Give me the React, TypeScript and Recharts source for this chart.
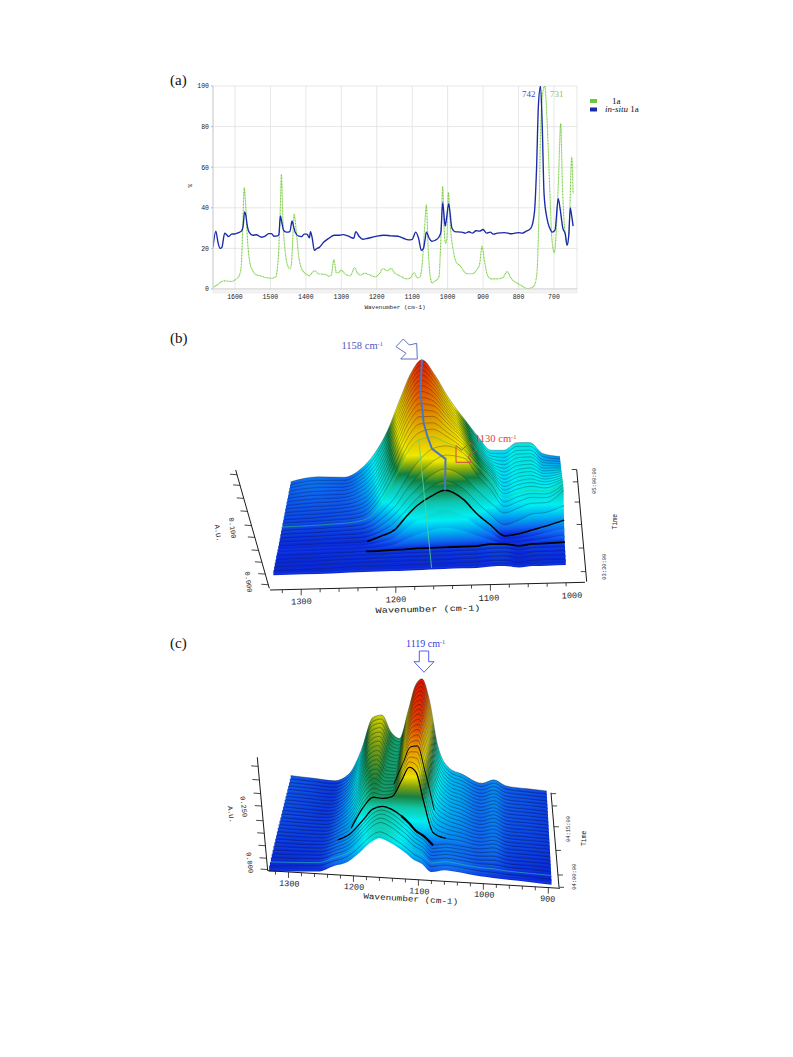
import React from 'react';
import { Area, CartesianGrid, ComposedChart, Line, LineChart, XAxis, YAxis } from 'recharts';

// ---------- Panel (a) ----------
const wavenumberTicks = [1600, 1500, 1400, 1300, 1200, 1100, 1000, 900, 800, 700];
const percentTicks = [0, 20, 40, 60, 80, 100];
const greenSpectrum: [number, number][] = [[1660,1],[1650,2],[1640,3.5],[1630,4],[1610,3.7],[1600,4.5],[1590,6],[1583,10],[1578,30],[1574,50],[1570,42],[1565,25],[1558,13],[1550,9],[1540,7],[1525,6.3],[1510,5.5],[1495,5.3],[1485,6],[1478,15],[1472,40],[1469,56.5],[1465,35],[1458,18],[1450,11],[1445,10],[1441,12],[1436,28],[1433,37],[1428,30],[1420,16],[1412,10],[1400,7.5],[1390,6.5],[1380,8.5],[1375,9],[1365,7.5],[1345,7.2],[1335,6.3],[1328,7],[1321,14.5],[1314,8],[1308,8],[1300,9.3],[1290,7.5],[1275,6.5],[1262,10.5],[1255,8],[1245,6.8],[1235,7.8],[1220,7],[1205,6],[1195,7],[1182,10],[1170,9],[1160,10.2],[1150,8],[1135,6.5],[1115,5],[1105,5.5],[1095,8],[1085,5.5],[1078,6],[1072,12],[1065,30],[1060,41.5],[1055,20],[1048,5],[1043,3],[1035,4],[1025,5.5],[1019,25],[1014,50.5],[1010,30],[1006,22.5],[1002,25],[998,47.5],[992,30],[985,20],[975,13],[965,11.5],[955,9],[945,7.5],[930,7.5],[918,9.5],[910,12],[903,21],[897,15],[888,7],[878,5],[860,5],[845,5.5],[832,8.5],[820,5],[805,3],[790,1.5],[775,0.2],[765,0.5],[755,2],[748,8],[742,40],[738,75],[733,95],[726,100],[720,85],[712,50],[706,25],[699,18],[693,30],[687,55],[681,81.5],[676,50],[670,30],[662,22],[657,30],[650,65],[646,47]];
const blueSpectrum: [number, number][] = [[1662,20.5],[1654,28.5],[1648,23],[1642,20],[1637,20.5],[1629,27.5],[1625,27],[1618,25.8],[1610,27],[1600,27.2],[1590,27.8],[1582,28.5],[1577,31],[1573,38],[1569,36],[1566,32],[1560,28],[1550,26.5],[1540,26.7],[1525,25.5],[1515,26],[1505,27.3],[1497,27.3],[1490,26],[1480,26.2],[1476,27],[1472,36],[1468,33],[1463,29],[1455,28],[1445,28.3],[1439,33.5],[1435,31],[1430,28],[1420,26],[1412,25.8],[1405,27],[1397,27],[1390,25.2],[1387,28.3],[1382,25],[1376,19],[1370,19.8],[1362,20.5],[1350,23],[1335,25],[1320,26.5],[1305,26.5],[1295,26.8],[1280,26],[1265,25],[1259,28.3],[1250,26],[1240,24.5],[1225,25],[1205,25.8],[1180,26.5],[1160,26.2],[1140,26],[1125,25],[1110,24.2],[1100,24.5],[1090,28],[1082,25],[1074,19],[1068,20],[1064,24],[1060,28],[1052,25],[1045,23.5],[1035,24],[1025,25.5],[1019,28],[1014,42.5],[1007,31],[1003,35],[997,42],[988,30],[980,28.3],[960,28],[950,27.5],[940,28.2],[930,27.5],[920,28.7],[910,28.5],[900,29.3],[890,27.5],[880,28],[870,27],[860,27.5],[840,27.8],[820,27.2],[800,27.8],[790,27.5],[780,28.3],[765,30],[755,38],[749,60],[744,90],[738,100],[733,80],[728,47],[720,35],[712,30],[705,28],[697,29],[688,44.5],[683,40],[675,30],[668,27],[663,21.5],[658,27],[654,40],[650,36],[646,31]];
const legendNames = ['1a', 'in-situ'];
const toPoints = (s: [number, number][]) => s.map(([wn, pct]) => ({ wn, pct }));

// ---------- Panel (b): absorbance in mAU, front slice first ----------
const bWavenumbers = [1332,1300,1270,1250,1235,1220,1205,1192,1180,1165,1150,1130,1115,1100,1085,1070,1055,1040,1020];
const bSlices = [
[1,1,1,2,2,2,2,2,2,3,3,3,3,5,5,1,3,3,3],
[1,1,2,3,3,3,3,3,3,3,3,4,4,6,6,1,4,4,4],
[2,2,3,3,4,4,4,4,4,4,4,5,5,7,7,2,5,5,5],
[3,3,4,4,4,5,5,5,5,5,5,6,6,8,8,3,6,6,6],
[3,3,4,5,5,5,6,6,6,6,6,7,7,9,9,4,7,7,7],
[4,4,5,5,6,6,7,7,8,8,8,8,8,11,10,5,8,8,9],
[4,4,4,4,5,7,11,20,30,38,42,34,22,12,2,4,7,10,15],
[4,4,4,4,5,10,18,36,52,65,72,58,36,19,3,5,9,15,22],
[4,4,4,4,5,15,27,55,77,95,106,85,53,28,4,7,14,21,32],
[5,5,6,6,8,18,36,62,86,108,118,100,70,42,20,28,40,42,55],
[6,6,7,7,10,24,46,76,100,125,136,118,88,60,37,46,55,55,80],
[7,7,8,9,13,30,56,92,118,144,158,150,112,80,43,52,60,58,78],
[8,8,9,10,16,38,70,110,140,165,170,152,118,85,45,55,60,58,76],
[9,9,10,12,20,55,105,155,178,183,170,150,118,85,46,55,60,56,72],
[10,10,11,13,24,60,112,162,186,192,176,146,114,84,47,56,60,55,68],
[10,10,12,14,27,66,122,172,197,198,178,146,112,82,47,57,60,54,64],
[11,11,12,16,30,72,130,180,205,204,180,144,110,80,47,57,60,52,60],
[11,12,13,17,33,77,136,188,212,208,182,142,106,76,47,58,60,50,56],
[12,13,13,19,36,81,142,194,218,212,182,138,102,72,47,58,60,48,52],
[12,14,14,21,40,85,147,200,224,214,182,135,98,68,47,58,60,46,48],
[13,15,14,23,43,89,152,205,229,216,180,132,95,64,47,59,60,44,44],
[13,16,14,24,46,92,156,210,234,217,178,129,92,60,47,59,60,42,40],
[13,17,15,26,49,95,160,214,238,217,176,126,89,57,47,60,60,40,36],
[14,18,15,27,52,98,164,218,242,217,174,123,86,54,47,60,59,38,33],
[14,19,15,28,55,101,167,222,245,217,172,121,84,52,47,60,59,36,30],
[14,19,15,30,57,104,170,225,248,217,170,119,82,50,47,61,59,35,27],
[14,20,15,31,60,106,173,227,251,217,169,117,80,49,47,61,59,34,25],
];
const bRidge = [{ wn: 1180, slice: 26, v: 251 }, { wn: 1180, slice: 20, v: 229 }, { wn: 1175, slice: 15, v: 198 }, { wn: 1170, slice: 13, v: 182 }, { wn: 1165, slice: 12, v: 165 }, { wn: 1150, slice: 11, v: 150 }, { wn: 1150, slice: 10, v: 136 }, { wn: 1150, slice: 8, v: 106 }];
const bTrace = [{ wn: 1180, slice: 13, v: 178 }, { wn: 1163, slice: 0, v: 3 }];

// ---------- Panel (c): absorbance in mAU, front slice first ----------
const cWavenumbers = [1330,1290,1255,1230,1210,1190,1175,1160,1145,1130,1118,1107,1095,1080,1060,1040,1005,985,965,930,895];
const cSlices = [
[0,5,9,34,51,93,130,152,138,116,95,72,59,28,38,33,20,16,12,7,0],
[3,7,11,34,53,97,136,158,144,120,98,75,60,30,38,34,21,18,13,8,2],
[5,8,12,35,55,101,141,163,149,124,101,78,62,31,39,34,22,20,14,9,4],
[8,9,12,35,57,105,146,168,154,128,104,80,64,32,39,35,23,23,15,10,5],
[10,10,13,36,59,109,151,172,158,132,107,82,65,33,40,36,24,26,16,11,7],
[11,11,13,36,61,113,155,175,162,135,110,84,66,33,40,36,26,29,17,12,8],
[13,12,14,37,63,117,160,177,165,139,113,86,68,34,41,37,27,32,18,13,9],
[14,12,14,37,65,121,165,178,168,144,117,88,69,34,41,37,28,35,19,14,10],
[15,13,14,38,72,160,199,196,205,270,324,305,190,70,50,45,29,37,20,15,11],
[16,13,14,39,76,168,204,196,203,276,332,320,210,80,55,47,29,38,21,16,12],
[17,14,14,39,80,176,209,197,202,280,338,334,228,90,60,49,30,39,21,16,12],
[18,14,14,40,84,184,214,197,201,284,345,346,244,98,64,51,30,40,22,17,13],
[18,15,14,40,88,191,219,198,200,287,351,356,258,106,68,53,30,41,22,17,13],
[19,15,14,41,92,198,224,198,199,290,357,365,270,113,71,55,31,42,23,18,13],
[19,15,14,41,96,205,229,199,198,292,363,373,282,120,73,57,31,43,23,18,14],
[20,16,14,42,100,212,234,199,197,294,369,381,292,126,75,58,31,44,24,19,14],
[20,16,13,42,104,218,239,200,197,296,375,388,301,132,77,60,32,45,24,19,14],
[21,16,13,43,108,224,244,200,196,298,380,395,310,138,79,61,32,46,25,19,15],
[21,17,13,43,112,230,249,201,196,300,385,402,318,143,80,62,32,46,25,20,15],
[22,17,13,43,116,236,254,202,195,301,389,408,326,148,81,63,32,47,26,20,15],
[22,17,13,44,120,242,259,204,195,302,393,413,332,152,82,64,33,47,26,20,15],
[22,17,13,44,124,248,264,206,194,303,397,418,338,156,83,64,33,48,27,21,16],
[23,18,13,44,127,253,268,208,194,304,400,423,343,160,84,65,33,48,27,21,16],
[23,18,13,45,130,258,272,211,194,305,403,427,348,163,84,65,33,48,27,21,16],
[23,18,13,45,133,263,276,213,193,306,405,430,352,166,85,66,33,49,28,21,16],
[24,18,13,45,136,267,279,216,193,306,406,432,355,168,85,66,33,49,28,21,16],
[24,18,13,45,139,271,282,218,193,307,406,433,357,170,85,66,33,49,28,21,16],
];

// ---------- Shared look ----------
const serif = '"Liberation Serif", serif';
const mono = '"Liberation Mono", monospace';
type Stop = [number, string];
const rampB: Stop[] = [[0,'#0a28d8'],[0.05,'#0f62ee'],[0.12,'#00a8f0'],[0.2,'#00eef2'],[0.33,'#10c0a8'],[0.43,'#108040'],[0.5,'#80a810'],[0.58,'#f0e800'],[0.73,'#e0b800'],[0.85,'#e07000'],[0.95,'#e03000'],[1,'#e01000']];
const rampC: Stop[] = [[0,'#0a28d8'],[0.05,'#0f62ee'],[0.14,'#00a8f0'],[0.26,'#00eef2'],[0.38,'#10c8a8'],[0.48,'#188040'],[0.57,'#80a010'],[0.66,'#e8e000'],[0.78,'#e8a000'],[0.88,'#e04000'],[1,'#e01000']];

type Geometry = {
  id: string; left: number; top: number; width: number; height: number;
  wnLeft: number; wnRight: number; scale: number;
  frontL: [number, number]; frontR: [number, number]; backL: [number, number]; backR: [number, number];
};
const lerp = (a: number, b: number, t: number) => a + (b - a) * t;
const project = (g: Geometry, wn: number, t: number, v: number) => {
  const s = (g.wnLeft - wn) / (g.wnLeft - g.wnRight);
  const x = lerp(lerp(g.frontL[0], g.frontR[0], s), lerp(g.backL[0], g.backR[0], s), t);
  const base = lerp(lerp(g.frontL[1], g.frontR[1], s), lerp(g.backL[1], g.backR[1], s), t);
  return { x, base, y: base - v * g.scale };
};
type Pt = { wn: number; slice: number; v: number };
type PathSpec = { pts: Pt[]; color: string; width: number; opacity: number; curved?: boolean };

// part of one slice, between two wavenumbers, for the stretches drawn heavier
const segment = (wns: number[], rows: number[][], slice: number, from: number, to: number, width: number): PathSpec => ({
  pts: wns.map((wn, j) => ({ wn, slice, v: rows[slice][j] })).filter((p) => p.wn <= from && p.wn >= to),
  color: '#000', width, opacity: 1, curved: true,
});

function Waterfall({ g, wavenumbers, slices, ramp, noLine, accent, accentColor, lineOpacity, paths }: {
  g: Geometry; wavenumbers: number[]; slices: number[][]; ramp: Stop[]; noLine: number[]; accent: number[]; accentColor: string; lineOpacity: number; paths: PathSpec[];
}) {
  const n = slices.length;
  const maxV = Math.max(...slices.flat());
  const tables = slices.map((row, i) => {
    const t = i / (n - 1);
    return row.map((v, j) => {
      const p = project(g, wavenumbers[j], t, v);
      const prev = i > 0 ? project(g, wavenumbers[j], (i - 1) / (n - 1), slices[i - 1][j]).y + 1.5 : p.y;
      return { px: p.x, top: p.y, band: [prev, p.y] };
    });
  });
  const order = slices.map((_, i) => n - 1 - i);
  return (
    <div style={{ position: 'absolute', left: g.left, top: g.top }}>
      <ComposedChart width={g.width} height={g.height} margin={{ top: 0, right: 0, bottom: 0, left: 0 }}>
        <defs>
          {slices.map((_, i) => {
            const t = i / (n - 1);
            const a = project(g, g.wnLeft, t, 0);
            const b = project(g, g.wnRight, t, 0);
            const dx = b.x - a.x, dy = b.base - a.base, len = Math.hypot(dx, dy);
            const L = maxV * g.scale * (dx / len);
            return (
              <linearGradient key={i} id={`${g.id}${i}`} gradientUnits="userSpaceOnUse" x1={a.x} y1={a.base} x2={a.x + (dy / len) * L} y2={a.base - (dx / len) * L}>
                {ramp.map(([o, c]) => <stop key={o} offset={o} stopColor={c} />)}
              </linearGradient>
            );
          })}
        </defs>
        <XAxis type="number" dataKey="px" domain={[0, g.width]} hide allowDataOverflow />
        <YAxis type="number" domain={[0, g.height]} reversed hide allowDataOverflow />
        {order.flatMap((i) => {
          const hasLine = !noLine.includes(i);
          const isAccent = accent.includes(i);
          return [
            i > 0 ? <Area key={`f${i}`} data={tables[i]} dataKey="band" type="monotone" stroke="none" fill={`url(#${g.id}${i})`} fillOpacity={1} dot={false} activeDot={false} isAnimationActive={false} /> : null,
            hasLine ? <Area key={`l${i}`} data={tables[i]} dataKey="top" type="monotone" fill="none" stroke={isAccent ? accentColor : i === 0 ? '#3060d0' : '#061018'} strokeOpacity={isAccent ? 0.7 : lineOpacity} strokeWidth={isAccent ? 0.8 : 0.45} dot={false} activeDot={false} isAnimationActive={false} /> : null,
          ];
        })}
        {paths.map((path, k) => (
          <Line key={k} data={path.pts.map((q) => { const p = project(g, q.wn, q.slice / (n - 1), q.v); return { px: p.x, top: p.y }; })} dataKey="top" type={path.curved ? 'monotone' : 'linear'} stroke={path.color} strokeWidth={path.width} strokeOpacity={path.opacity} dot={false} activeDot={false} isAnimationActive={false} />
        ))}
      </ComposedChart>
    </div>
  );
}

const gB: Geometry = { id: 'gb', left: 160, top: 325, width: 450, height: 295, wnLeft: 1332, wnRight: 1020, scale: 0.4733, frontL: [112.7, 249.3], frontR: [406, 240], backL: [130.7, 163.3], backR: [400, 143.3] };
const gC: Geometry = { id: 'gc', left: 160, top: 630, width: 450, height: 290, wnLeft: 1330, wnRight: 895, scale: 0.2533, frontL: [108.3, 240], frontR: [391.7, 253.3], backL: [130.7, 151.7], backR: [386.7, 165] };

type P = [number, number];
const along = (a: P, b: P, f: number): P => [lerp(a[0], b[0], f), lerp(a[1], b[1], f)];
const ink = '#1a1a1a';

function Axes({ au, time, floor, floorWn, major, labels, auLabels, timeLabels, auTitle, timeTitle, wnTitle, tilt, timeSide, auTicks, timeTicks }: {
  au: [P, P]; time: [P, P]; floor: [P, P]; floorWn: [number, number]; major: number[]; labels: { t: string; x: number; y: number }[];
  auLabels: { t: string; x: number; y: number }[]; timeLabels: { t: string; x: number; y: number }[];
  auTitle: P; timeTitle: P; wnTitle: { x: number; y: number; w: number }; tilt: number; timeSide: number; auTicks: number[]; timeTicks: number[];
}) {
  const minor: number[] = [];
  for (let wn = floorWn[1] + 20 - (floorWn[1] % 20); wn < floorWn[0]; wn += 20) minor.push(wn);
  const rot = (x: number, y: number, a: number) => `rotate(${a} ${x} ${y})`;
  return (
    <g>
      <line x1={au[0][0]} y1={au[0][1]} x2={au[1][0]} y2={au[1][1]} stroke={ink} strokeWidth={1} />
      <line x1={time[0][0]} y1={time[0][1]} x2={time[1][0]} y2={time[1][1]} stroke={ink} strokeWidth={1} />
      <line x1={floor[0][0]} y1={floor[0][1]} x2={floor[1][0]} y2={floor[1][1]} stroke={ink} strokeWidth={1} />
      {auTicks.map((f) => { const p = along(au[0], au[1], f); return <line key={f} x1={p[0]} y1={p[1]} x2={p[0] - 7} y2={p[1] - 0.5} stroke={ink} strokeWidth={0.8} />; })}
      {timeTicks.map((f) => { const p = along(time[0], time[1], f); return <line key={f} x1={p[0]} y1={p[1]} x2={p[0] + timeSide} y2={p[1]} stroke={ink} strokeWidth={0.8} />; })}
      {minor.map((wn) => { const p = along(floor[0], floor[1], (floorWn[0] - wn) / (floorWn[0] - floorWn[1])); const isMajor = major.includes(wn); return <line key={wn} x1={p[0]} y1={p[1]} x2={p[0]} y2={p[1] + (isMajor ? 6 : 3.5)} stroke={ink} strokeWidth={0.8} />; })}
      {labels.map((l) => <text key={l.t} x={l.x} y={l.y} transform={rot(l.x, l.y, tilt)} textAnchor="middle" dominantBaseline="middle" fontFamily={mono} fontSize={8.5} fill={ink}>{l.t}</text>)}
      {auLabels.map((l) => <text key={l.t} x={l.x} y={l.y} transform={rot(l.x, l.y, 83)} textAnchor="middle" dominantBaseline="middle" fontFamily={mono} fontSize={7} fill={ink}>{l.t}</text>)}
      {timeLabels.map((l) => <text key={l.t} x={l.x} y={l.y} transform={rot(l.x, l.y, -90)} textAnchor="middle" dominantBaseline="middle" fontFamily={mono} fontSize={5.4} fill={ink}>{l.t}</text>)}
      <text x={auTitle[0]} y={auTitle[1]} transform={rot(auTitle[0], auTitle[1], 83)} textAnchor="middle" dominantBaseline="middle" fontFamily={mono} fontSize={7} fill={ink}>A.U.</text>
      <text x={timeTitle[0]} y={timeTitle[1]} transform={rot(timeTitle[0], timeTitle[1], -90)} textAnchor="middle" dominantBaseline="middle" fontFamily={mono} fontSize={6.5} fill={ink}>Time</text>
      <text x={wnTitle.x} y={wnTitle.y} transform={rot(wnTitle.x, wnTitle.y, tilt)} textAnchor="middle" dominantBaseline="middle" fontFamily={mono} fontSize={8} textLength={wnTitle.w} lengthAdjust="spacingAndGlyphs" fill={ink}>Wavenumber (cm-1)</text>
    </g>
  );
}

const Peak = ({ x, y, value, color, size }: { x: number; y: number; value: string; color: string; size: number }) => (
  <text x={x} y={y} fontFamily={serif} fontSize={size} fill={color}>
    {value} cm<tspan dy={-3} fontSize={size * 0.62}>-1</tspan>
  </text>
);

const Overlay = () => (
  <svg width={793} height={1057} style={{ position: 'absolute', left: 0, top: 0, pointerEvents: 'none' }}>
    {['(a)', '(b)', '(c)'].map((t, i) => <text key={t} x={170} y={[85, 343, 648][i]} fontFamily={serif} fontSize={15} fill="#111">{t}</text>)}

    <rect x={213} y={289.5} width={364} height={3.5} fill="#f3f3f3" stroke="#e2e2e2" strokeWidth={0.5} />
    <text x={522} y={97} fontFamily={serif} fontSize={9} fill="#4848e0">742</text>
    <text x={550} y={97} fontFamily={serif} fontSize={9} fill="#8cc060">731</text>
    <rect x={590} y={99} width={7} height={4} fill="#6cc83a" />
    <rect x={590} y={107.5} width={7} height={4} fill="#1a2aa8" />
    <text x={612} y={104} fontFamily={serif} fontSize={9} fill="#111">{legendNames[0]}</text>
    <text x={605} y={112} fontFamily={serif} fontSize={9} fill="#111"><tspan fontStyle="italic">{legendNames[1]}</tspan> 1a</text>

    <Axes
      au={[[235.7, 470], [269.3, 588.3]]} time={[[576.7, 469.5], [586.7, 581.7]]} floor={[[270, 590], [585, 582.3]]} floorWn={[1333, 1000]}
      major={[1300, 1200, 1100, 1000]}
      labels={[{ t: '1300', x: 301.5, y: 602 }, { t: '1200', x: 396, y: 600 }, { t: '1100', x: 489, y: 598.5 }, { t: '1000', x: 572, y: 596 }]}
      auLabels={[{ t: '0.100', x: 232, y: 528 }, { t: '0.000', x: 248, y: 582 }]}
      timeLabels={[{ t: '05:00:00', x: 595, y: 481 }, { t: '03:30:00', x: 604.3, y: 566.7 }]}
      auTitle={[217.7, 533]} timeTitle={[615.7, 521.7]} wnTitle={{ x: 428, y: 609.5, w: 105 }} tilt={-1.4} timeSide={-5}
      auTicks={[0.04, 0.13, 0.24, 0.35, 0.47, 0.57, 0.68, 0.78, 0.88, 0.97]} timeTicks={[0, 0.11, 0.29, 0.49, 0.7, 0.91]}
    />
    <polygon points="396,346.7 403.3,339 409.3,345 416.7,343.3 417.3,359 400.7,359 406,353.3" fill="#fff" stroke="#6070c0" strokeWidth={1} />
    <polygon points="456,445.7 461.7,450 470,442.3 476.7,450 468.3,456.7 471.7,462.3 456,462.3" fill="none" stroke="#d04a4a" strokeWidth={1} />
    <Peak x={341.5} y={349} value="1158" color="#5058c0" size={10.5} />
    <Peak x={475} y={441.5} value="1130" color="#e23c3c" size={10.5} />

    <Axes
      au={[[257.3, 757.3], [267.7, 870.7]]} time={[[551, 792.7], [559, 887.3]]} floor={[[267.7, 870.7], [560, 888.3]]} floorWn={[1332, 882]}
      major={[1300, 1200, 1100, 1000, 900]}
      labels={[{ t: '1300', x: 289.3, y: 884 }, { t: '1200', x: 354, y: 887.3 }, { t: '1100', x: 419.3, y: 891.7 }, { t: '1000', x: 484.3, y: 895 }, { t: '900', x: 547.7, y: 899.3 }]}
      auLabels={[{ t: '0.250', x: 243.3, y: 806.7 }, { t: '0.000', x: 249.3, y: 862.7 }]}
      timeLabels={[{ t: '04:15:00', x: 569, y: 829 }, { t: '04:00:00', x: 574.3, y: 876.7 }]}
      auTitle={[230.7, 814.3]} timeTitle={[584.3, 838.3]} wnTitle={{ x: 410.7, y: 899.3, w: 95 }} tilt={3.4} timeSide={5}
      auTicks={[0.08, 0.2, 0.32, 0.43, 0.56, 0.67, 0.78, 0.89, 0.99]} timeTicks={[0.01, 0.14, 0.36, 0.61, 0.87, 1]}
    />
    <polygon points="419.3,651 428.7,651 428.7,661.7 434,661.7 424,672.3 414,661.7 419.3,661.7" fill="#fff" stroke="#5060f0" strokeWidth={1} />
    <Peak x={406} y={647} value="1119" color="#3040e0" size={10} />
  </svg>
);

export default function App() {
  return (
    <div style={{ position: 'absolute', left: 0, top: 0, width: 793, height: 1057, background: '#fff', overflow: 'hidden' }}>
      <div style={{ position: 'absolute', left: 160, top: 70 }}>
        <LineChart width={490} height={250} margin={{ top: 16, right: 73, bottom: 17, left: 23 }}>
          <CartesianGrid stroke="#dcdcdc" strokeWidth={0.7} />
          <XAxis type="number" dataKey="wn" domain={[635, 1662]} reversed ticks={wavenumberTicks} height={14} interval={0} allowDataOverflow stroke="#cfcfcf"
            tick={{ fontFamily: mono, fontSize: 6.5, fill: '#222' }} tickSize={3} tickLine={{ stroke: '#bbb' }}
            label={{ value: 'Wavenumber (cm-1)', position: 'insideBottom', offset: -6, style: { fontFamily: mono, fontSize: 6, fill: '#222' } }} />
          <YAxis type="number" domain={[0, 100]} ticks={percentTicks} width={30} allowDataOverflow stroke="#cfcfcf"
            tick={{ fontFamily: mono, fontSize: 6.5, fill: '#222' }} tickSize={2} tickLine={{ stroke: '#bbb' }}
            label={{ value: '%', angle: -90, position: 'insideLeft', offset: 7, style: { fontFamily: mono, fontSize: 6, fill: '#222' } }} />
          <Line data={toPoints(greenSpectrum)} dataKey="pct" type="monotone" stroke="#74cc3c" strokeWidth={1.1} strokeDasharray="1 0.5" dot={false} activeDot={false} isAnimationActive={false} />
          <Line data={toPoints(blueSpectrum)} dataKey="pct" type="monotone" stroke="#1a2aa8" strokeWidth={1.35} dot={false} activeDot={false} isAnimationActive={false} />
        </LineChart>
      </div>
      <Waterfall g={gB} wavenumbers={bWavenumbers} slices={bSlices} ramp={rampB} noLine={[6, 7]} accent={[13]} accentColor="#30d060" lineOpacity={0.62}
        paths={[
          segment(bWavenumbers, bSlices, 5, 1235, 1020, 1.8),
          segment(bWavenumbers, bSlices, 8, 1235, 1020, 1.5),
          { pts: bTrace, color: '#50d890', width: 0.9, opacity: 0.9 },
          { pts: bRidge, color: '#4a78c0', width: 2, opacity: 1 },
        ]} />
      <Waterfall g={gC} wavenumbers={cWavenumbers} slices={cSlices} ramp={rampC} noLine={[]} accent={[2]} accentColor="#30c8a0" lineOpacity={0.8}
        paths={[
          segment(cWavenumbers, cSlices, 7, 1230, 1080, 1.3),
          segment(cWavenumbers, cSlices, 7, 1130, 1080, 2.2),
          segment(cWavenumbers, cSlices, 8, 1210, 1060, 1.2),
          segment(cWavenumbers, cSlices, 12, 1145, 1080, 0.9),
        ]} />
      <Overlay />
    </div>
  );
}
